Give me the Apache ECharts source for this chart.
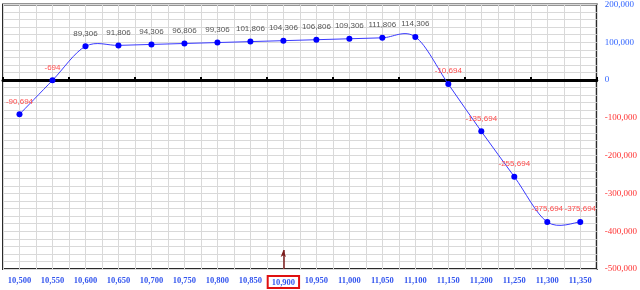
<!DOCTYPE html>
<html>
<head>
<meta charset="utf-8">
<script src="https://cdn.jsdelivr.net/npm/echarts@6/dist/echarts.min.js"></script>
<style>html,body{margin:0;padding:0;background:#fff}#c{width:640px;height:290px}</style>
</head>
<body>
<div id="c"></div>
<script>
const categories = ['10,500','10,550','10,600','10,650','10,700','10,750','10,800','10,850','10,900','10,950','11,000','11,050','11,100','11,150','11,200','11,250','11,300','11,350'];
const values = [-90694, -694, 89306, 91806, 94306, 96806, 99306, 101806, 104306, 106806, 109306, 111806, 114306, -10694, -135694, -255694, -375694, -375694];
const highlightCategory = '10,900';
const yMin = -500000, yMax = 200000, yStep = 100000;
const strikeLow = 10475, strikeHigh = 11375, strikeHalfStep = 25;
const arrowTop = -450000;

const fmt = v => Number(v).toLocaleString('en-US');
const chart = echarts.init(document.getElementById('c'), null, {renderer: 'canvas'});

const dataItems = values.map(v => ({
  value: v,
  label: {color: v < 0 ? '#ff4d4d' : '#555555'}
}));

// Catmull-Rom spline through the data points, positioned via the chart's own axes (api.coord)
function renderSpline(params, api) {
  if (params.dataIndex !== 0) return null;
  const pts = values.map((v, i) => api.coord([i, v]));
  const n = pts.length;
  let d = 'M' + pts[0][0] + ' ' + pts[0][1];
  for (let i = 0; i < n - 1; i++) {
    const p0 = pts[Math.max(i - 1, 0)], p1 = pts[i], p2 = pts[i + 1], p3 = pts[Math.min(i + 2, n - 1)];
    const c1x = p1[0] + (p2[0] - p0[0]) / 6, c1y = p1[1] + (p2[1] - p0[1]) / 6;
    const c2x = p2[0] - (p3[0] - p1[0]) / 6, c2y = p2[1] - (p3[1] - p1[1]) / 6;
    d += ' C' + c1x + ' ' + c1y + ' ' + c2x + ' ' + c2y + ' ' + p2[0] + ' ' + p2[1];
  }
  return {type: 'path', shape: {pathData: d}, style: {fill: null, stroke: '#3a3aff', lineWidth: 1}, silent: true};
}

chart.setOption({
  animation: false,
  backgroundColor: '#ffffff',
  grid: {left: 3, right: 37, top: 4, bottom: 21, show: true, borderColor: '#2a2a2a', borderWidth: 2, containLabel: false},
  xAxis: [
    {
      type: 'category', data: categories, position: 'bottom', boundaryGap: true,
      axisLine: {show: false, onZero: false}, axisTick: {show: false}, splitLine: {show: false},
      axisLabel: {
        interval: 0, margin: 7, color: '#3355ee', fontFamily: 'Liberation Serif', fontWeight: 'bold', fontSize: 8.5,
        formatter: v => v === highlightCategory ? '{hl|' + v + '}' : v,
        rich: {hl: {color: '#3355ee', fontFamily: 'Liberation Serif', fontWeight: 'bold', fontSize: 8.5,
          borderColor: '#e01010', borderWidth: 2, padding: [2, 4, 1, 4]}}
      }
    },
    {
      type: 'category', data: categories, position: 'top', boundaryGap: true,
      axisLine: {show: true, onZero: true, lineStyle: {color: '#000', width: 3}},
      axisTick: {show: true, inside: false, length: 3, lineStyle: {color: '#000', width: 2}},
      axisLabel: {show: false}, splitLine: {show: false}
    },
    {
      type: 'value', min: strikeLow, max: strikeHigh, interval: strikeHalfStep, position: 'bottom',
      axisLine: {show: false, onZero: false}, axisTick: {show: false}, axisLabel: {show: false},
      splitLine: {show: true, lineStyle: {color: '#d9d9d9', width: 1}}
    }
  ],
  yAxis: {
    type: 'value', position: 'right', min: yMin, max: yMax, interval: yStep,
    axisLine: {show: false}, axisTick: {show: false},
    splitLine: {show: true, lineStyle: {color: '#d9d9d9', width: 1}},
    minorTick: {show: false, splitNumber: 5},
    minorSplitLine: {show: true, lineStyle: {color: '#d9d9d9', width: 1}},
    axisLabel: {
      margin: 8, fontFamily: 'Liberation Serif', fontSize: 9,
      formatter: v => (v < 0 ? '{n|' : '{p|') + fmt(v) + '}',
      rich: {
        p: {color: '#3366ff', fontFamily: 'Liberation Serif', fontSize: 9},
        n: {color: '#ff3333', fontFamily: 'Liberation Serif', fontSize: 9}
      }
    }
  },
  series: [
    {
      type: 'custom', xAxisIndex: 0, yAxisIndex: 0, z: 1,
      data: values.map((v, i) => [i, v]),
      renderItem: renderSpline
    },
    {
      type: 'line', xAxisIndex: 0, yAxisIndex: 0, data: dataItems, z: 3,
      showSymbol: true, lineStyle: {width: 0, opacity: 0},
      symbol: 'circle', symbolSize: 6,
      itemStyle: {color: '#0000ff'},
      label: {show: true, position: 'top', distance: 6, fontFamily: 'Liberation Sans', fontSize: 8,
        formatter: p => fmt(p.value)},
      markLine: {
        silent: true, symbol: ['none', 'arrow'], symbolSize: [4, 7],
        label: {show: false},
        lineStyle: {color: '#7b1c1c', width: 1.5, type: 'solid'},
        data: [[{coord: [highlightCategory, yMin]}, {coord: [highlightCategory, arrowTop]}]]
      }
    }
  ]
});
</script>
</body>
</html>
